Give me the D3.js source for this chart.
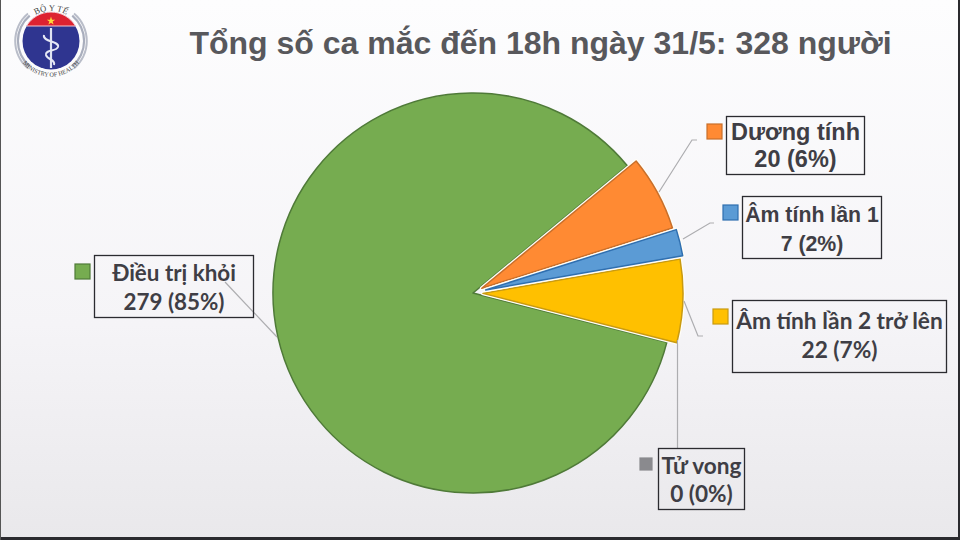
<!DOCTYPE html>
<html><head><meta charset="utf-8">
<script src="https://cdn.jsdelivr.net/npm/d3@7/dist/d3.min.js"></script>
<style>html,body{margin:0;padding:0;background:#fff}svg{display:block}</style>
</head><body><svg id="c" width="960" height="540"></svg>
<script>
const titleText = "Tổng số ca mắc đến 18h ngày 31/5: 328 người";
const categories = ["Dương tính","Âm tính lần 1","Âm tính lần 2 trở lên","Tử vong","Điều trị khỏi"];
const values = [20,7,22,0,279];
const percents = ["6%","2%","7%","0%","85%"];
const fills = ["#ff8a33","#5b9bd5","#ffc000","#8a8a8e","#76ac50"];
const strokes = ["#c96f2a","#2f6fb0","#c99a10","#8a8a8e","#4f7a38"];

// layout, one entry per category, in category order
const explode = [10,13,10,0,0];
const boxes = [[726,116,138,58],[742,196,139,62],[732,300,214,72],[658,448,86,61],[94,255,159,62]];
const keys = [[707,124],[723,205],[713,309],[640,458],[75,264]];
const keySize = [15,15,15,12,15];
const baselines = [[140,167],[222,251],[329,358],[474,502],[281,310]];
const fontFam = ["Liberation Sans","Liberation Sans","Lato","Lato","Lato"];
const fontSize = [23.5,21.3,22.7,22.6,22.4];
const leaders = [
  [[659,192],[692,140],[697,140]],
  [[683,239],[710,223],[714,223]],
  [[684,301],[698,336],[703,336]],
  [[677.5,340],[677.5,448]],
  [[277,337],[225,282]]
];

const svg = d3.select("#c");
const defs = svg.append("defs");
const g = defs.append("linearGradient").attr("id","bg").attr("x1",0).attr("y1",0).attr("x2",0).attr("y2",1);
g.append("stop").attr("offset","0").attr("stop-color","#fdfdfe");
g.append("stop").attr("offset","0.6").attr("stop-color","#f5f4f7");
g.append("stop").attr("offset","1").attr("stop-color","#e9e8eb");
svg.append("rect").attr("width",960).attr("height",540).attr("fill","url(#bg)");
svg.append("rect").attr("x",958).attr("width",2).attr("height",540).attr("fill","#2a2a2e");
svg.append("rect").attr("y",537).attr("width",960).attr("height",3).attr("fill","#2a2a2e");
svg.append("rect").attr("width",1).attr("height",540).attr("fill","#555");

svg.append("text").attr("x",540.5).attr("y",53.5).attr("text-anchor","middle")
  .attr("font-family","Liberation Sans").attr("font-weight",700).attr("font-size",32)
  .attr("fill","#58585c").text(titleText);

const cx = 473, cy = 293, R = 200;
const pie = d3.pie().sort(null).value(d=>d).startAngle(50.5*Math.PI/180).endAngle((50.5+360)*Math.PI/180);
const arcs = pie(values);
const arc = d3.arc().innerRadius(0).outerRadius(R);
const place = (d,i)=>{
  const a=(d.startAngle+d.endAngle)/2-Math.PI/2;
  return `translate(${cx+explode[i]*Math.cos(a)},${cy+explode[i]*Math.sin(a)})`;
};
const order = [4,2,0,1];
const pieG = svg.append("g");
order.forEach(i=>{
  if(explode[i]) pieG.append("path").attr("transform",place(arcs[i],i)).attr("d",arc(arcs[i]))
    .attr("fill","none").attr("stroke","#fffdf6").attr("stroke-width",4).attr("stroke-linejoin","round");
  pieG.append("path").attr("transform",place(arcs[i],i)).attr("d",arc(arcs[i]))
    .attr("fill",fills[i]).attr("stroke",strokes[i]).attr("stroke-width",1.5).attr("stroke-linejoin","round");
});

const line = d3.line();
svg.append("g").selectAll("path").data(leaders).join("path")
  .attr("d",line).attr("fill","none").attr("stroke","#adadb0").attr("stroke-width",1.2);

const lab = svg.append("g").selectAll("g").data(categories).join("g");
lab.append("rect").attr("x",(d,i)=>boxes[i][0]+.5).attr("y",(d,i)=>boxes[i][1]+.5)
  .attr("width",(d,i)=>boxes[i][2]).attr("height",(d,i)=>boxes[i][3])
  .attr("fill","none").attr("stroke","#2b2b30").attr("stroke-width",1.3);
lab.append("rect").attr("x",(d,i)=>keys[i][0]).attr("y",(d,i)=>keys[i][1])
  .attr("width",(d,i)=>keySize[i]).attr("height",(d,i)=>keySize[i])
  .attr("fill",(d,i)=>fills[i]).attr("stroke",(d,i)=>strokes[i]).attr("stroke-width",1.2);
const tf = t=>t.attr("text-anchor","middle").attr("font-family",(d,i)=>fontFam[i]).attr("font-weight",700)
  .attr("font-size",(d,i)=>fontSize[i]).attr("fill","#3f3e45");
lab.append("text").call(tf).attr("x",(d,i)=>boxes[i][0]+boxes[i][2]/2+.5).attr("y",(d,i)=>baselines[i][0]).text(d=>d);
lab.append("text").call(tf).attr("x",(d,i)=>boxes[i][0]+boxes[i][2]/2+.5).attr("y",(d,i)=>baselines[i][1])
  .text((d,i)=>`${values[i]} (${percents[i]})`);

// Ministry of Health emblem
const lg = svg.append("g").attr("transform","translate(51,41)");
const ring = d3.arc();
[[-140,-40],[40,140]].forEach(([a,b])=>{
  [[32,34.2,"#a9aebd"],[34.9,36.8,"#b9bdc9"]].forEach(([r0,r1,c])=>{
    lg.append("path").attr("fill",c).attr("d",ring({innerRadius:r0,outerRadius:r1,startAngle:a*Math.PI/180,endAngle:b*Math.PI/180}));
  });
});
lg.append("circle").attr("r",28.5).attr("fill","#2f3590");
lg.append("path").attr("d","M-24.5,-15 A28.5,28.5 0 0 1 24.5,-15 Z").attr("fill","#dd2230").attr("stroke","#f3c9d0");
lg.append("path").attr("transform","translate(0,-20)").attr("d",d3.symbol(d3.symbolStar,22)()).attr("fill","#ffd83a");
lg.append("line").attr("y1",-13).attr("y2",27).attr("stroke","#dfe3f2").attr("stroke-width",2.2);
lg.append("path").attr("d","M-7,-6 C-9,1 9,0 7,6 C5,11 -6,8 -5,14 C-4,19 5,18 3,24").attr("fill","none").attr("stroke","#e6e8f5").attr("stroke-width",2);
const arcText = (id,d,t,fs)=>{
  defs.append("path").attr("id",id).attr("d",d);
  lg.append("text").attr("font-family","Liberation Serif").attr("font-size",fs).attr("fill","#444")
    .append("textPath").attr("href","#"+id).attr("startOffset","50%").attr("text-anchor","middle").text(t);
};
arcText("t1","M-24,-18.5 A30.3,30.3 0 0 1 24,-18.5","BỘ Y TẾ",8.6);
arcText("t2","M-33,14 A36,36 0 0 0 33,14","MINISTRY OF HEALTH",6.2);
</script></body></html>
